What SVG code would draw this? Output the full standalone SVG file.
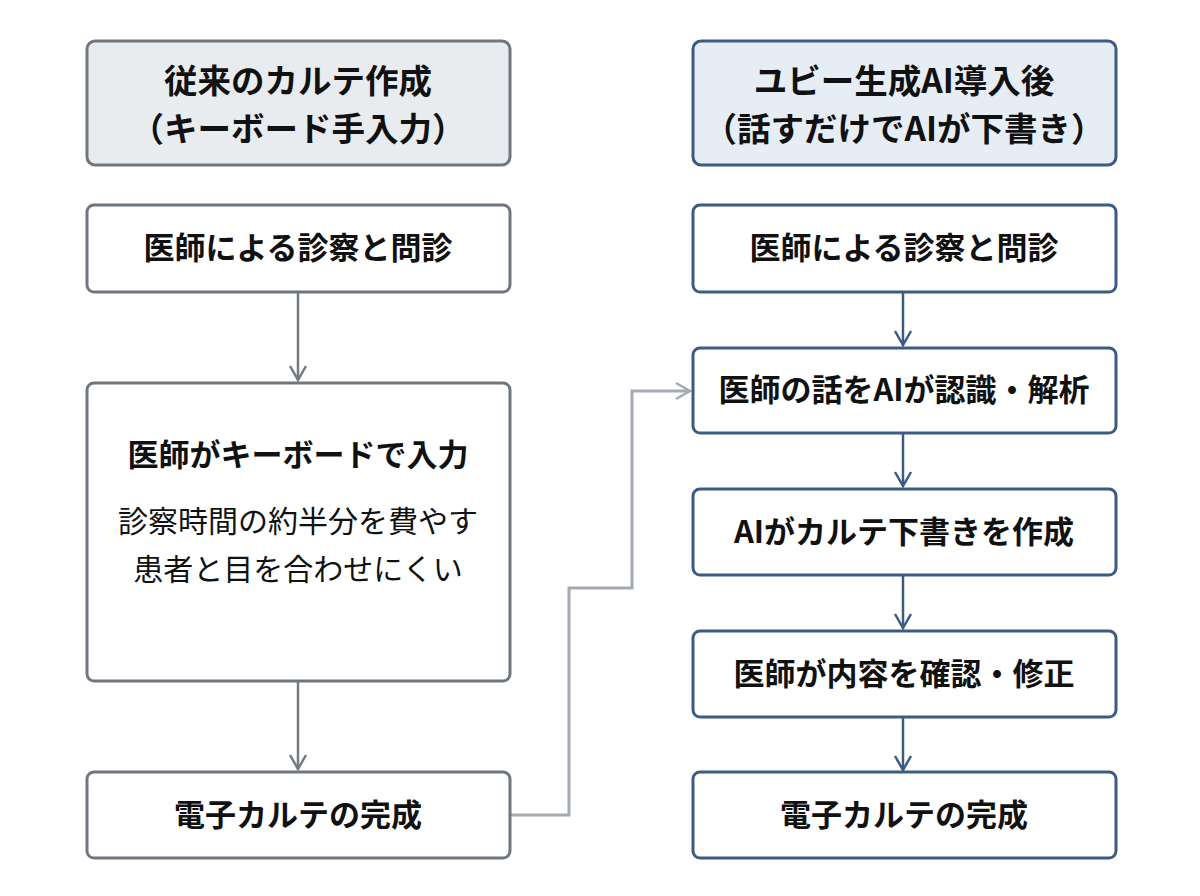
<svg xmlns="http://www.w3.org/2000/svg" width="1200" height="896" viewBox="0 0 1200 896">
<style>
text{font-family:"Noto Sans CJK JP","Noto Sans",sans-serif;fill:#111;text-anchor:middle}
.h{font-size:33.5px;font-weight:700}
.t{font-size:31px;font-weight:700}
.s{font-size:30px;font-weight:400}
.lb{fill:#fff;stroke:#6f767e;stroke-width:3}
.lh{fill:#e9ecef;stroke:#6f767e;stroke-width:3}
.rb{fill:#fff;stroke:#3b5b84;stroke-width:3}
.rh{fill:#e7edf5;stroke:#3b5b84;stroke-width:3}
.al{fill:none;stroke:#737a82;stroke-width:2.5}
.ar{fill:none;stroke:#3b5b84;stroke-width:2.5}
.ac{fill:none;stroke:#a3aab2;stroke-width:3}
</style>
<defs>
<marker id="ml" viewBox="0 0 20 20" refX="18" refY="10" markerWidth="20" markerHeight="20" markerUnits="userSpaceOnUse" orient="auto"><path d="M4,2 L18,10 L4,18" fill="none" stroke="#737a82" stroke-width="2.5"/></marker>
<marker id="mr" viewBox="0 0 20 20" refX="18" refY="10" markerWidth="20" markerHeight="20" markerUnits="userSpaceOnUse" orient="auto"><path d="M4,2 L18,10 L4,18" fill="none" stroke="#3b5b84" stroke-width="2.5"/></marker>
<marker id="mc" viewBox="0 0 20 20" refX="18" refY="10" markerWidth="20" markerHeight="20" markerUnits="userSpaceOnUse" orient="auto"><path d="M4,2 L18,10 L4,18" fill="none" stroke="#a3aab2" stroke-width="2.5"/></marker>
</defs>
<g id="connectors">
<path class="al" d="M298,292 V380" marker-end="url(#ml)"/>
<path class="al" d="M298,681 V769" marker-end="url(#ml)"/>
<path class="ar" d="M903,292 V345" marker-end="url(#mr)"/>
<path class="ar" d="M903,433 V486" marker-end="url(#mr)"/>
<path class="ar" d="M903,575 V628" marker-end="url(#mr)"/>
<path class="ar" d="M903,717 V770" marker-end="url(#mr)"/>
<path class="ac" d="M510,815 H569 V588 H632 V391 H690" marker-end="url(#mc)"/>
</g>
<g id="left-header"><rect class="lh" x="87" y="41" width="423" height="124" rx="8"/><text class="h" x="298" y="93">従来のカルテ作成</text><text class="h" x="298" y="141">（キーボード手入力）</text></g>
<g id="left-1"><rect class="lb" x="87" y="205" width="423" height="87" rx="7"/><text class="t" x="298" y="259">医師による診察と問診</text></g>
<g id="left-2"><rect class="lb" x="87" y="383" width="423" height="298" rx="7"/><text class="t" x="298" y="466">医師がキーボードで入力</text><text class="s" x="298" y="532">診察時間の約半分を費やす</text><text class="s" x="298" y="580">患者と目を合わせにくい</text></g>
<g id="left-3"><rect class="lb" x="87" y="772" width="423" height="86" rx="7"/><text class="t" x="298" y="826">電子カルテの完成</text></g>
<g id="right-header"><rect class="rh" x="693" y="41" width="423" height="124" rx="8"/><text class="h" x="904" y="93">ユビー生成AI導入後</text><text class="h" x="904" y="141">（話すだけでAIが下書き）</text></g>
<g id="right-1"><rect class="rb" x="693" y="205" width="423" height="87" rx="7"/><text class="t" x="904" y="259">医師による診察と問診</text></g>
<g id="right-2"><rect class="rb" x="693" y="348" width="423" height="85" rx="7"/><text class="t" x="904" y="401">医師の話をAIが認識・解析</text></g>
<g id="right-3"><rect class="rb" x="693" y="489" width="423" height="86" rx="7"/><text class="t" x="904" y="543">AIがカルテ下書きを作成</text></g>
<g id="right-4"><rect class="rb" x="693" y="631" width="423" height="86" rx="7"/><text class="t" x="904" y="685">医師が内容を確認・修正</text></g>
<g id="right-5"><rect class="rb" x="693" y="772" width="423" height="86" rx="7"/><text class="t" x="904" y="826">電子カルテの完成</text></g>
</svg>
